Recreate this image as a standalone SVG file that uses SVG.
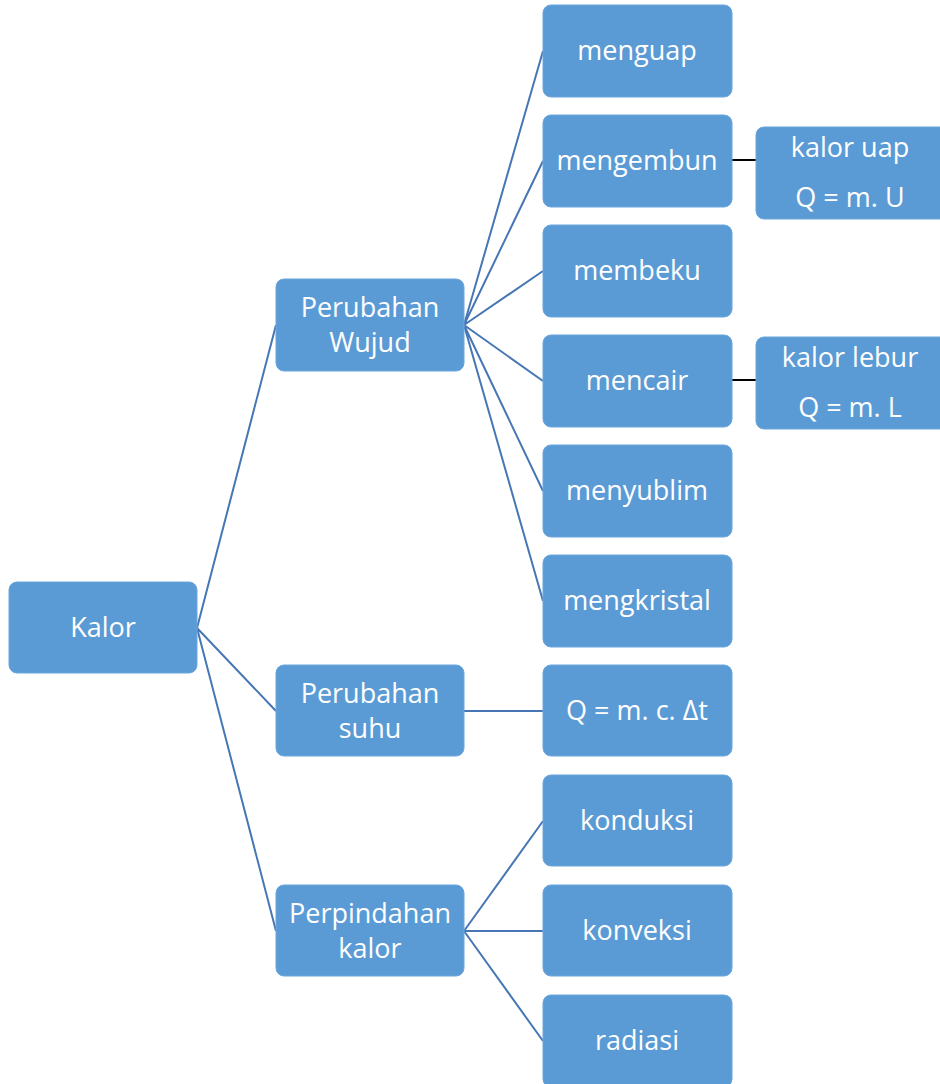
<svg xmlns="http://www.w3.org/2000/svg" width="940" height="1084" viewBox="0 0 940 1084">
<style>
.b{fill:#5b9bd5;stroke:#6aa6dc;stroke-width:1}
.t{font-family:"Open Sans","Noto Sans",sans-serif;font-size:27px;fill:#fff;text-anchor:middle}
.c{stroke:#4677b4;stroke-width:2;fill:none}
.k{stroke:#000;stroke-width:2;fill:none}
</style>
<rect width="940" height="1084" fill="#fff"/>
<g id="connectors">
<path class="c" d="M197 628L276 325M197 628L276 711M197 628L276 931"/>
<path class="c" d="M464 325L543 51M464 325L543 161M464 325L543 271M464 325L543 381M464 325L543 491M464 325L543 601"/>
<path class="c" d="M464 711L543 711"/>
<path class="c" d="M464 931L543 821M464 931L543 931M464 931L543 1041"/>
<path class="k" d="M732 160L756 160M732 380L756 380"/>
</g>
<g id="kalor"><rect class="b" x="9" y="582" width="188" height="91" rx="8"/><text class="t" x="103" y="637">Kalor</text></g>
<g id="perubahan-wujud"><rect class="b" x="276" y="279" width="188" height="92" rx="8"/><text class="t" x="370" y="317">Perubahan</text><text class="t" x="370" y="352">Wujud</text></g>
<g id="perubahan-suhu"><rect class="b" x="276" y="665" width="188" height="91" rx="8"/><text class="t" x="370" y="703">Perubahan</text><text class="t" x="370" y="738">suhu</text></g>
<g id="perpindahan-kalor"><rect class="b" x="276" y="885" width="188" height="91" rx="8"/><text class="t" x="370" y="923">Perpindahan</text><text class="t" x="370" y="958">kalor</text></g>
<g id="menguap"><rect class="b" x="543" y="5" width="189" height="92" rx="8"/><text class="t" x="637" y="60">menguap</text></g>
<g id="mengembun"><rect class="b" x="543" y="115" width="189" height="92" rx="8"/><text class="t" x="637" y="170">mengembun</text></g>
<g id="membeku"><rect class="b" x="543" y="225" width="189" height="92" rx="8"/><text class="t" x="637" y="280">membeku</text></g>
<g id="mencair"><rect class="b" x="543" y="335" width="189" height="92" rx="8"/><text class="t" x="637" y="390">mencair</text></g>
<g id="menyublim"><rect class="b" x="543" y="445" width="189" height="92" rx="8"/><text class="t" x="637" y="500">menyublim</text></g>
<g id="mengkristal"><rect class="b" x="543" y="555" width="189" height="92" rx="8"/><text class="t" x="637" y="610">mengkristal</text></g>
<g id="rumus-suhu"><rect class="b" x="543" y="665" width="189" height="91" rx="8"/><text class="t" x="637" y="720">Q = m. c. Δt</text></g>
<g id="konduksi"><rect class="b" x="543" y="775" width="189" height="91" rx="8"/><text class="t" x="637" y="830">konduksi</text></g>
<g id="konveksi"><rect class="b" x="543" y="885" width="189" height="91" rx="8"/><text class="t" x="637" y="940">konveksi</text></g>
<g id="radiasi"><rect class="b" x="543" y="995" width="189" height="92" rx="8"/><text class="t" x="637" y="1050">radiasi</text></g>
<g id="kalor-uap"><rect class="b" x="756" y="127" width="192" height="92" rx="8"/><text class="t" x="850" y="157">kalor uap</text><text class="t" x="850" y="207">Q = m. U</text></g>
<g id="kalor-lebur"><rect class="b" x="756" y="337" width="192" height="92" rx="8"/><text class="t" x="850" y="367">kalor lebur</text><text class="t" x="850" y="417">Q = m. L</text></g>
</svg>
